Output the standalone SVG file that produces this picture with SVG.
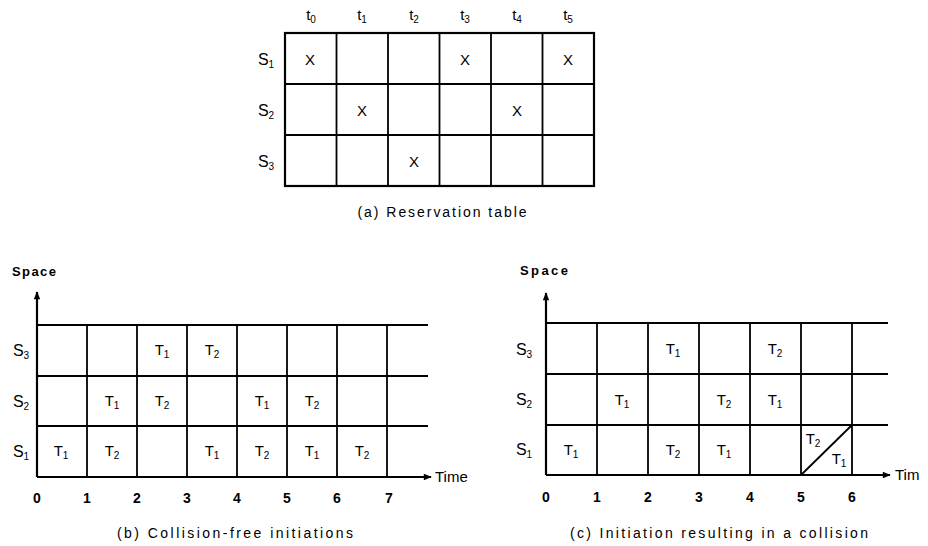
<svg xmlns="http://www.w3.org/2000/svg" width="928" height="546" viewBox="0 0 928 546">
<style>
text{font-family:"Liberation Sans",Arial,sans-serif;fill:#000}
.lb{font-size:15px;text-anchor:middle}
.sl{font-size:16px;text-anchor:middle}
.cell{font-size:15px;text-anchor:middle}
.num{font-size:14px;text-anchor:middle;font-weight:bold}
.cap{font-size:14px;text-anchor:middle}
.ax{font-size:15px}
.sp{font-size:13px;font-weight:bold}
.g{stroke:#000;stroke-width:2.2;fill:none}
.gi{stroke:#000;stroke-width:1.8;fill:none}
</style>
<defs>
<marker id="ar" viewBox="0 0 10 10" refX="9" refY="5" markerWidth="11" markerHeight="8" markerUnits="userSpaceOnUse" orient="auto">
<path d="M0,1 L10,5 L0,9 Z" fill="#000"/>
</marker>
</defs>
<rect width="928" height="546" fill="#fff"/>

<g id="panel-a">
<rect class="g" x="285" y="33" width="309" height="153"/>
<path class="gi" d="M336.5,33V186M388,33V186M439.5,33V186M491,33V186M542.5,33V186M285,84H594M285,135H594"/>
<text class="lb" x="311" y="20">t<tspan font-size="10" dy="3">0</tspan></text>
<text class="lb" x="362" y="20">t<tspan font-size="10" dy="3">1</tspan></text>
<text class="lb" x="414" y="20">t<tspan font-size="10" dy="3">2</tspan></text>
<text class="lb" x="465" y="20">t<tspan font-size="10" dy="3">3</tspan></text>
<text class="lb" x="517" y="20">t<tspan font-size="10" dy="3">4</tspan></text>
<text class="lb" x="568" y="20">t<tspan font-size="10" dy="3">5</tspan></text>
<text class="sl" x="266" y="65">S<tspan font-size="10" dy="3">1</tspan></text>
<text class="sl" x="266" y="116">S<tspan font-size="10" dy="3">2</tspan></text>
<text class="sl" x="266" y="167">S<tspan font-size="10" dy="3">3</tspan></text>
<text class="lb" x="310" y="65">X</text>
<text class="lb" x="465" y="65">X</text>
<text class="lb" x="568" y="65">X</text>
<text class="lb" x="362" y="116">X</text>
<text class="lb" x="517" y="116">X</text>
<text class="lb" x="414" y="167">X</text>
<text class="cap" x="442" y="217" textLength="169">(a)  Reservation table</text>
</g>

<g id="panel-b">
<g id="b-grid">
<path class="g" d="M37,325H428M37,376H428M37,426H428"/>
<path class="gi" d="M87,325V477M137,325V477M187,325V477M237,325V477M287,325V477M337,325V477M387,325V477"/>
</g>
<g id="b-axes">
<line class="g" x1="37" y1="477" x2="37" y2="292" marker-end="url(#ar)"/>
<line class="g" x1="37" y1="477" x2="431" y2="477" marker-end="url(#ar)"/>
</g>
<text class="sp" x="12" y="276" textLength="44">Space</text>
<text class="ax" x="435" y="482">Time</text>
<text class="sl" x="21" y="356">S<tspan font-size="10" dy="3">3</tspan></text>
<text class="sl" x="21" y="407">S<tspan font-size="10" dy="3">2</tspan></text>
<text class="sl" x="21" y="457">S<tspan font-size="10" dy="3">1</tspan></text>
<text class="cell" x="162" y="355">T<tspan font-size="10" dy="3">1</tspan></text>
<text class="cell" x="212" y="355">T<tspan font-size="10" dy="3">2</tspan></text>
<text class="cell" x="112" y="406">T<tspan font-size="10" dy="3">1</tspan></text>
<text class="cell" x="162" y="406">T<tspan font-size="10" dy="3">2</tspan></text>
<text class="cell" x="262" y="406">T<tspan font-size="10" dy="3">1</tspan></text>
<text class="cell" x="312" y="406">T<tspan font-size="10" dy="3">2</tspan></text>
<text class="cell" x="61" y="456">T<tspan font-size="10" dy="3">1</tspan></text>
<text class="cell" x="112" y="456">T<tspan font-size="10" dy="3">2</tspan></text>
<text class="cell" x="212" y="456">T<tspan font-size="10" dy="3">1</tspan></text>
<text class="cell" x="262" y="456">T<tspan font-size="10" dy="3">2</tspan></text>
<text class="cell" x="312" y="456">T<tspan font-size="10" dy="3">1</tspan></text>
<text class="cell" x="362" y="456">T<tspan font-size="10" dy="3">2</tspan></text>
<text class="num" x="37" y="503">0</text>
<text class="num" x="87" y="503">1</text>
<text class="num" x="137" y="503">2</text>
<text class="num" x="187" y="503">3</text>
<text class="num" x="237" y="503">4</text>
<text class="num" x="287" y="503">5</text>
<text class="num" x="337" y="503">6</text>
<text class="num" x="389" y="503">7</text>
<text class="cap" x="235" y="538" textLength="236">(b)  Collision-free initiations</text>
</g>

<g id="panel-c">
<g id="c-grid">
<path class="g" d="M546,323H888M546,374H888M546,425H888"/>
<path class="gi" d="M597,323V475M648,323V475M699,323V475M750,323V475M801,323V475M852,323V475M801,475L852,425"/>
</g>
<g id="c-axes">
<line class="g" x1="546" y1="475" x2="546" y2="293" marker-end="url(#ar)"/>
<line class="g" x1="546" y1="475" x2="890" y2="475" marker-end="url(#ar)"/>
</g>
<text class="sp" x="520" y="275" textLength="48">Space</text>
<text class="ax" x="895" y="480">Tim</text>
<text class="sl" x="524" y="355">S<tspan font-size="10" dy="3">3</tspan></text>
<text class="sl" x="524" y="405">S<tspan font-size="10" dy="3">2</tspan></text>
<text class="sl" x="524" y="455">S<tspan font-size="10" dy="3">1</tspan></text>
<text class="cell" x="673" y="354">T<tspan font-size="10" dy="3">1</tspan></text>
<text class="cell" x="775" y="354">T<tspan font-size="10" dy="3">2</tspan></text>
<text class="cell" x="622" y="405">T<tspan font-size="10" dy="3">1</tspan></text>
<text class="cell" x="724" y="405">T<tspan font-size="10" dy="3">2</tspan></text>
<text class="cell" x="775" y="405">T<tspan font-size="10" dy="3">1</tspan></text>
<text class="cell" x="571" y="455">T<tspan font-size="10" dy="3">1</tspan></text>
<text class="cell" x="673" y="455">T<tspan font-size="10" dy="3">2</tspan></text>
<text class="cell" x="724" y="455">T<tspan font-size="10" dy="3">1</tspan></text>
<text class="cell" x="813" y="444">T<tspan font-size="10" dy="3">2</tspan></text>
<text class="cell" x="839" y="464">T<tspan font-size="10" dy="3">1</tspan></text>
<text class="num" x="546" y="502">0</text>
<text class="num" x="597" y="502">1</text>
<text class="num" x="648" y="502">2</text>
<text class="num" x="699" y="502">3</text>
<text class="num" x="750" y="502">4</text>
<text class="num" x="801" y="502">5</text>
<text class="num" x="852" y="502">6</text>
<text class="cap" x="719" y="538" textLength="298">(c)  Initiation resulting in a collision</text>
</g>
</svg>
